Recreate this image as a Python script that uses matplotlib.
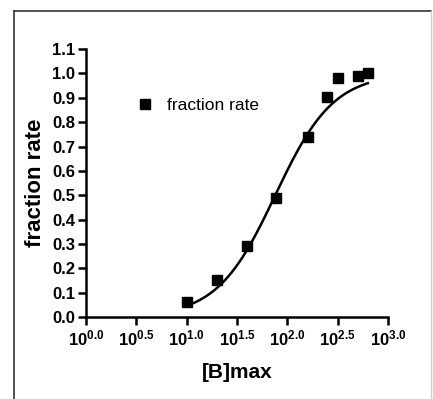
import numpy as np
import matplotlib
matplotlib.use("Agg")
import matplotlib.pyplot as plt
from matplotlib import font_manager
from matplotlib.lines import Line2D

# data
conc = [10, 20, 40, 78, 160, 250, 320, 500, 640]
fraction = [0.06, 0.15, 0.29, 0.49, 0.74, 0.905, 0.98, 0.99, 1.0]
# sigmoidal dose-response fit parameters
fit_bottom, fit_top, fit_logec50, fit_hill = 0.0, 1.0, 1.88, 1.5
xticks_exp = [0.0, 0.5, 1.0, 1.5, 2.0, 2.5, 3.0]
yticks = [0.0, 0.1, 0.2, 0.3, 0.4, 0.5, 0.6, 0.7, 0.8, 0.9, 1.0, 1.1]

names = {f.name for f in font_manager.fontManager.ttflist}
narrow = "Liberation Sans Narrow" if "Liberation Sans Narrow" in names else "Liberation Sans"

plt.rcParams["font.family"] = [narrow, "DejaVu Sans"]
plt.rcParams["mathtext.fontset"] = "custom"
plt.rcParams["mathtext.rm"] = narrow + ":bold"
plt.rcParams["mathtext.bf"] = narrow + ":bold"

fig = plt.figure(figsize=(4.33, 3.99), dpi=100)
ax = fig.add_axes([0.1986, 0.2055, 0.6975, 0.6715])

# frame around the picture
fig.add_artist(Line2D([14 / 433, 14 / 433], [0, 1 - 11 / 399], color="#333333", lw=1.2))
fig.add_artist(Line2D([14 / 433, 431 / 433], [1 - 11 / 399, 1 - 11 / 399], color="#333333", lw=1.2))
fig.add_artist(Line2D([431 / 433, 431 / 433], [0, 1 - 11 / 399], color="#d0d0d0", lw=1.0))

lx = np.linspace(1.0, 2.8, 200)
ly = fit_bottom + (fit_top - fit_bottom) / (1 + 10 ** ((fit_logec50 - lx) * fit_hill))
ax.plot(10 ** lx, ly, color="black", lw=1.8)
ax.plot(conc, fraction, "s", color="black", ms=6.5, label="fraction rate")

ax.set_xscale("log")
ax.set_xlim(1, 1000)
ax.set_ylim(0, 1.1)
ax.set_xticks([10 ** e for e in xticks_exp])
ax.set_xticklabels([r"$\mathbf{10^{%.1f}}$" % e for e in xticks_exp])
ax.xaxis.set_minor_locator(matplotlib.ticker.NullLocator())
ax.set_yticks(yticks)
ax.set_yticklabels(["%.1f" % v for v in yticks], fontweight="bold")
ax.tick_params(labelsize=12, width=1.8, length=6, direction="out", pad=2)
for s in ["top", "right"]:
    ax.spines[s].set_visible(False)
for s in ["left", "bottom"]:
    ax.spines[s].set_linewidth(1.8)

ax.set_xlabel("[B]max", fontsize=15, fontweight="bold", labelpad=11)
ax.set_ylabel("fraction rate", fontsize=16, fontweight="bold", labelpad=4)

ax.legend(loc="upper left", bbox_to_anchor=(0.125, 0.875), frameon=False,
          fontsize=12.5, handlelength=0.6, handletextpad=1.0, markerscale=1.0)

fig.savefig("out.png", dpi=100)
